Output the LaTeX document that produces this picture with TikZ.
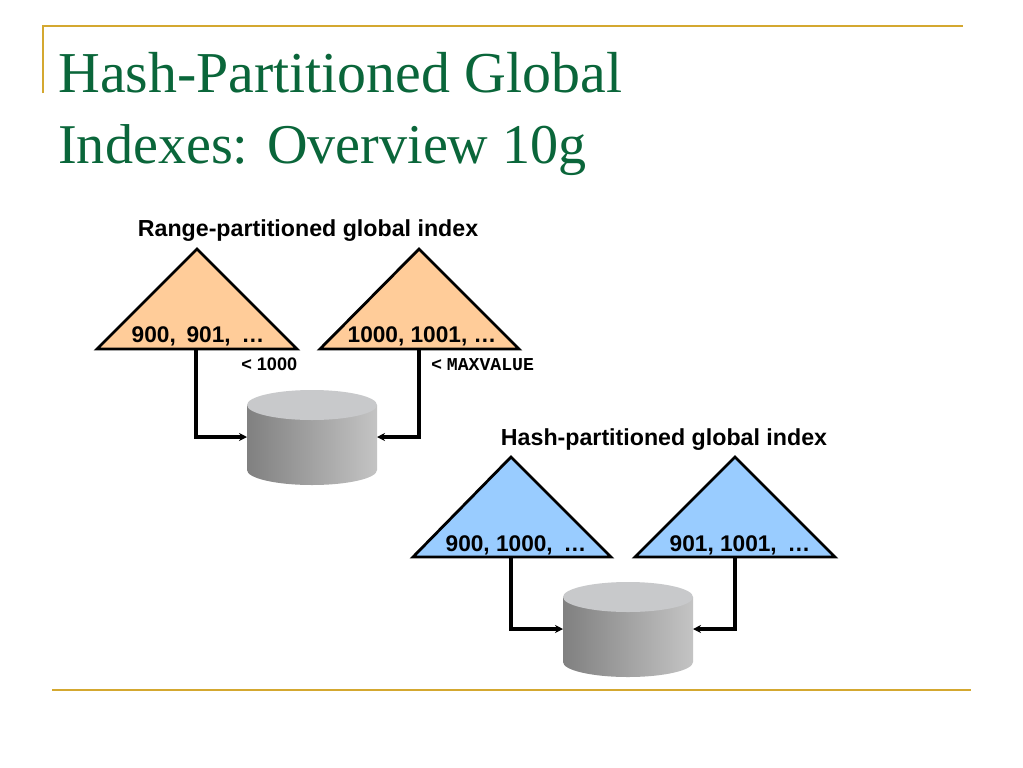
\documentclass[tikz,border=0pt]{standalone}
\usepackage{fontspec}
\setmainfont{Liberation Sans}
\newfontfamily\titlefont{Liberation Serif}
\newfontfamily\monofont{Liberation Mono}
\definecolor{gold}{RGB}{212,168,48}
\definecolor{titlegreen}{RGB}{10,102,58}
\definecolor{peach}{RGB}{255,204,153}
\definecolor{skyblue}{RGB}{153,204,255}
\definecolor{cyltop}{RGB}{200,201,203}
\definecolor{cylleft}{RGB}{128,128,128}
\definecolor{cylright}{RGB}{196,196,196}
\usetikzlibrary{arrows.meta}
\tikzset{
  x=0.75pt,y=-0.75pt,
  rule/.style={draw=gold,line width=1.5pt},
  titletext/.style={anchor=base west,inner sep=0,text=titlegreen},
  headtext/.style={inner sep=0,font=\bfseries\fontsize{17.4}{17.4}\selectfont},
  rangetext/.style={inner sep=0,font=\bfseries\fontsize{17}{17}\selectfont},
  smalltext/.style={inner sep=0,anchor=base west,font=\bfseries\fontsize{13.6}{14}\selectfont},
  tri/.style={draw=black,line width=2.1pt,line join=miter},
  conn/.style={draw=black,line width=2.3pt,-{Stealth[length=6pt,width=6pt]}},
}
\newcommand{\cyl}[3]{%
  \shade[left color=cylleft,right color=cylright]
    (#1,#2+15) -- (#1,#2+80) arc[x radius=65,y radius=15,start angle=180,end angle=0]
    -- (#1+130,#2+15) -- cycle;
  \fill[cyltop] (#1+65,#2+15) ellipse[x radius=65,y radius=15];
  \coordinate (#3L) at (#1,#2+47);
  \coordinate (#3R) at (#1+130,#2+47);
}
\begin{document}
\begin{tikzpicture}
\useasboundingbox[fill=white] (0,0) rectangle (1023,767);
% frame rules
\draw[rule] (43,93) -- (43,26) -- (963,26);
\draw[rule] (52,690) -- (971,690);
% title
\node[titletext,font=\titlefont\fontsize{43.4}{43.4}\selectfont] (t1) at (58,92) {Hash-Partitioned Global};
\node[titletext,font=\titlefont\fontsize{42.1}{42.1}\selectfont] (t2) at (58,163) {Indexes: Overview 10g};
% headings
\node[headtext] (h1) at (308,231) {Range-partitioned global index};
\node[headtext] (h2) at (664,440) {Hash-partitioned global index};
% triangles
\draw[tri,fill=peach] (197,249) -- (297,349) -- (97,349) -- cycle;
\draw[tri,fill=peach] (419,249) -- (519,349) -- (320,349) -- cycle;
\draw[tri,fill=skyblue] (511,457) -- (611,557) -- (413,557) -- cycle;
\draw[tri,fill=skyblue] (735,457) -- (835,557) -- (635,557) -- cycle;
\coordinate (a1) at (196,349);
\coordinate (a2) at (419,349);
\coordinate (b1) at (511,557);
\coordinate (b2) at (735,557);
% triangle texts
\node[rangetext] (n1) at (198,336) {900,\hspace{0.2em} 901,\hspace{0.2em} …};
\node[rangetext] (n2) at (422,336) {1000, 1001, …};
\node[rangetext] (n3) at (516,545) {900, 1000,\hspace{0.2em} …};
\node[rangetext] (n4) at (740,545) {901, 1001,\hspace{0.2em} …};
% bound labels
\node[smalltext] (l1) at (241,370) {< 1000};
\node[smalltext] (l2) at (431,370) {< {\monofont MAXVALUE}};
% cylinders
\cyl{247}{390}{c}
\cyl{563}{582}{d}
% connectors
\draw[conn] (a1) |- (cL);
\draw[conn] (a2) |- (cR);
\draw[conn] (b1) |- (dL);
\draw[conn] (b2) |- (dR);
\end{tikzpicture}
\end{document}
